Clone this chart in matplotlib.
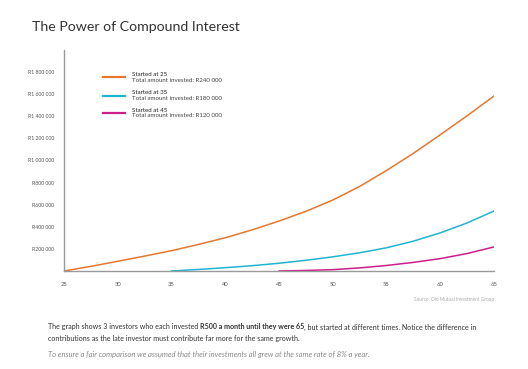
import matplotlib.pyplot as plt
from matplotlib.ticker import FuncFormatter

plt.rcParams['font.family'] = ['Lato', 'DejaVu Sans']

# values (rand)
ages_25 = [25, 27.5, 30, 32.5, 35, 37.5, 40, 42.5, 45, 47.5, 50, 52.5, 55, 57.5, 60, 62.5, 65]
started_25 = [0, 42000, 88000, 135000, 184000, 240000, 301000, 372000, 452000, 540000,
              642000, 765000, 910000, 1065000, 1233000, 1405000, 1584000]
ages_35 = [35, 37.5, 40, 42.5, 45, 47.5, 50, 52.5, 55, 57.5, 60, 62.5, 65]
started_35 = [0, 14000, 30000, 48000, 70000, 97000, 128000, 165000, 210000, 270000, 345000, 435000, 543000]
ages_45 = [45, 47.5, 50, 52.5, 55, 57.5, 60, 62.5, 65]
started_45 = [0, 5000, 12000, 28000, 50000, 78000, 112000, 158000, 218000]

series_labels = ["Started at 25", "Started at 35", "Started at 45"]
invested = ["R240 000", "R180 000", "R120 000"]
colors = ["#e8772e", "#1fb5cf", "#c91f8a"]

x_ticks = [25, 30, 35, 40, 45, 50, 55, 60, 65]
y_ticks = [200000, 400000, 600000, 800000, 1000000, 1200000, 1400000, 1600000, 1800000]

fig = plt.figure(figsize=(5.28, 3.69), dpi=100)
ax = fig.add_axes([64 / 528, 1 - 271 / 369, 430 / 528, 221 / 369])

ax.plot(ages_25, started_25, color=colors[0], lw=1.1)
ax.plot(ages_35, started_35, color=colors[1], lw=1.1)
ax.plot(ages_45, started_45, color=colors[2], lw=1.1)

ax.set_xlim(25, 65)
ax.set_ylim(0, 2000000)
ax.set_xticks(x_ticks)
ax.set_yticks(y_ticks)
ax.yaxis.set_major_formatter(FuncFormatter(lambda v, p: "R" + f"{int(v):,}".replace(",", " ")))
ax.tick_params(axis='both', length=0, labelsize=3.7, colors='#555555')
ax.tick_params(axis='x', pad=8, labelsize=4.2)
ax.tick_params(axis='y', pad=7)
for s in ['top', 'right']:
    ax.spines[s].set_visible(False)
for s in ['left', 'bottom']:
    ax.spines[s].set_color('#9a9a9a')
    ax.spines[s].set_linewidth(1.0)

# legend drawn by hand
leg_y = [77, 95.5, 113]
for i in range(3):
    y = 1 - leg_y[i] / 369
    fig.add_artist(plt.Line2D([103 / 528, 125 / 528], [y, y], color=colors[i], lw=1.6))
    fig.text(132 / 528, 1 - (leg_y[i] - 3) / 369, series_labels[i], fontsize=4.4, color='#222222', va='center')
    fig.text(132 / 528, 1 - (leg_y[i] + 3) / 369, "Total amount invested: " + invested[i],
             fontsize=4.4, color='#444444', va='center')

fig.text(32 / 528, 1 - 27 / 369, "The Power of Compound Interest", fontsize=10.2,
         color='#333333', va='center')
fig.text(494 / 528, 1 - 299 / 369, "Source: Old Mutual Investment Group", fontsize=3.4,
         color='#aaaaaa', va='center', ha='right')

# paragraph with a bold part
renderer = fig.canvas.get_renderer()
parts = [("The graph shows 3 investors who each invested ", 'normal'),
         ("R500 a month until they were 65", 'bold'),
         (", but started at different times. Notice the difference in", 'normal')]
x = 48 / 528
for txt, w in parts:
    t = fig.text(x, 1 - 327 / 369, txt, fontsize=5.1, fontweight=w, color='#333333', va='center')
    bb = t.get_window_extent(renderer)
    x += bb.width / fig.bbox.width
fig.text(48 / 528, 1 - 338 / 369, "contributions as the late investor must contribute far more for the same growth.",
         fontsize=5.1, color='#333333', va='center')
fig.text(48 / 528, 1 - 354.5 / 369,
         "To ensure a fair comparison we assumed that their investments all grew at the same rate of 8% a year.",
         fontsize=5.5, style='italic', color='#8a8a8a', va='center')

fig.savefig("out.png", dpi=100)
